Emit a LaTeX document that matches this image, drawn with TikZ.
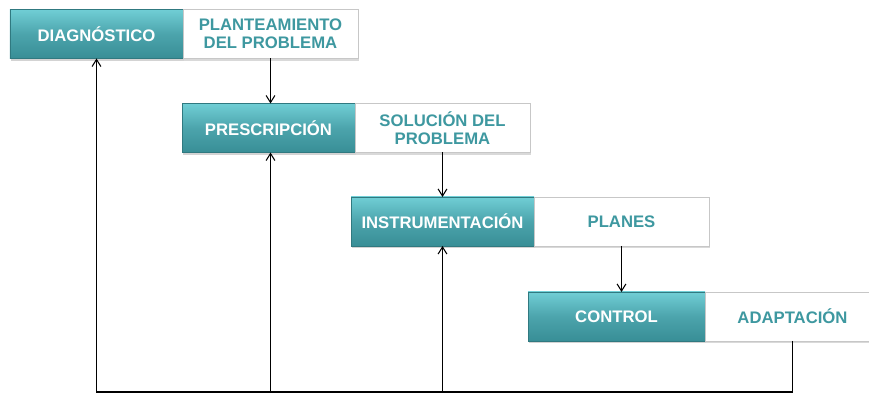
\documentclass[tikz,border=0pt]{standalone}
\usepackage{fontspec}
\setmainfont{Liberation Sans}
\usepackage{tikz}
\usetikzlibrary{positioning}
\usetikzlibrary{arrows.meta}
\usetikzlibrary{shadows}
\definecolor{tealtop}{RGB}{112,206,213}
\definecolor{tealmid}{RGB}{76,164,172}
\definecolor{tealbot}{RGB}{56,142,150}
\definecolor{tealtext}{RGB}{62,152,160}

\tikzset{
  stage/.style={draw=tealbot!85!black, top color=tealtop, bottom color=tealbot,
    middle color=tealmid, text=white, font=\bfseries\fontsize{9.5}{10.3}\selectfont,
    minimum height=0.98cm, inner sep=0pt, outer sep=0pt,
    drop shadow={opacity=0.35, shadow xshift=0.8pt, shadow yshift=-1.2pt}},
  result/.style={draw=black!22, fill=white, text=tealtext, align=center,
    font=\bfseries\fontsize{9.5}{10.3}\selectfont,
    minimum height=0.98cm, inner sep=0pt, outer sep=0pt,
    drop shadow={opacity=0.3, shadow xshift=0.8pt, shadow yshift=-1.2pt}},
  link/.style={draw=black, line width=0.6pt, -{Straight Barb[length=4pt,width=5pt]}}
}

\begin{document}
\begin{tikzpicture}

  \useasboundingbox (0,0) rectangle (17.38,7.88);

  \node[stage, minimum width=3.46cm] (diag) at (1.93,7.2) {DIAGNÓSTICO};
  \node[result, minimum width=3.5cm, right=0pt of diag] (plant) {PLANTEAMIENTO\\DEL PROBLEMA};

  \node[stage, minimum width=3.46cm] (presc) at (5.37,5.32) {PRESCRIPCIÓN};
  \node[result, minimum width=3.5cm, right=0pt of presc] (sol) {SOLUCIÓN DEL\\PROBLEMA};

  \node[stage, minimum width=3.66cm] (instr) at (8.85,3.45) {INSTRUMENTACIÓN};
  \node[result, minimum width=3.5cm, right=0pt of instr] (plan) {PLANES};

  \node[stage, minimum width=3.54cm] (ctrl) at (12.33,1.55) {CONTROL};
  \node[result, minimum width=3.5cm, right=0pt of ctrl] (adap) {ADAPTACIÓN};

  \coordinate (base) at (0,0.04);

  % Flujo
  \draw[link] (plant.south) -- (plant.south |- presc.north);
  \draw[link] (sol.south) -- (sol.south |- instr.north);
  \draw[link] (plan.south) -- (plan.south |- ctrl.north);

  % Retroalimentacion
  \draw[link] (adap.south) |- (base -| diag.south) -- (diag.south);
  \draw[link] (plant.south |- base) -- (plant.south |- presc.south);
  \draw[link] (sol.south |- base) -- (sol.south |- instr.south);

\end{tikzpicture}
\end{document}
